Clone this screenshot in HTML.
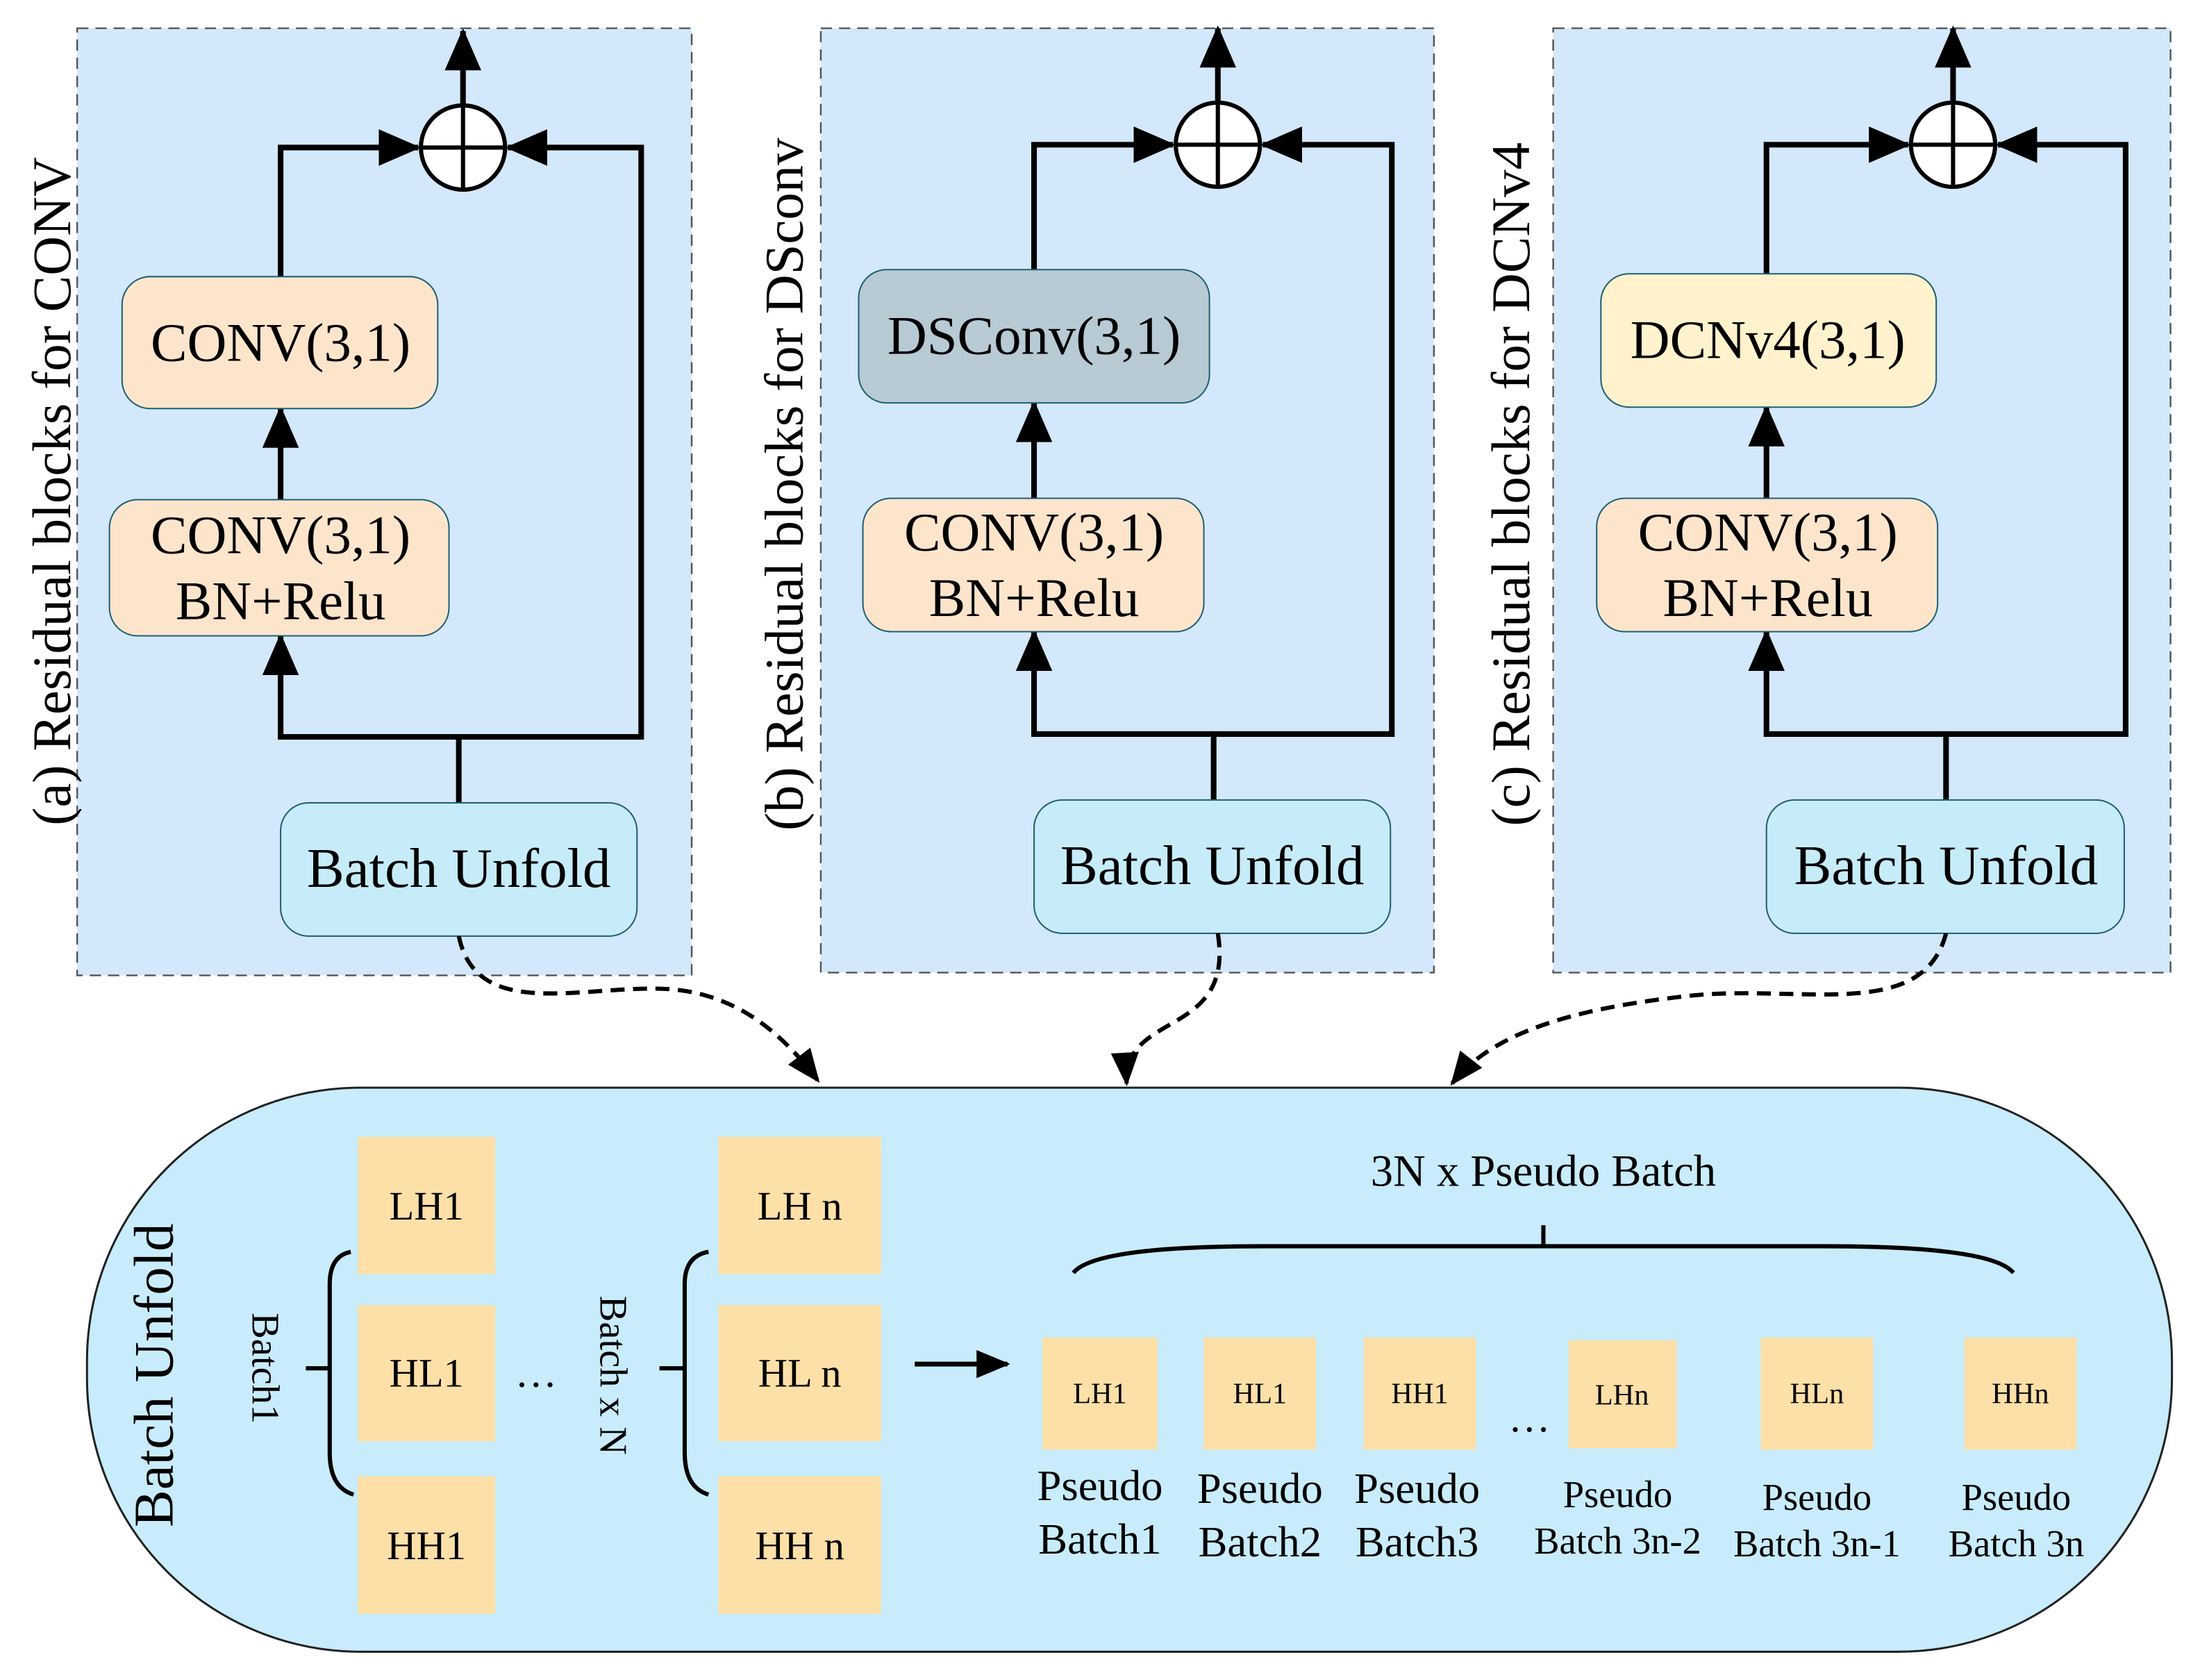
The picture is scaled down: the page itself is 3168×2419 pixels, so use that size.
<!DOCTYPE html>
<html><head><meta charset="utf-8"><style>
html,body{margin:0;padding:0;background:#fff;}
svg{display:block;}
text{font-family:"Liberation Serif",serif;fill:#000;}
</style></head><body>
<svg width="3168" height="2419" viewBox="0 0 1568 1197" xmlns="http://www.w3.org/2000/svg">
<defs>
<marker id="ab" markerWidth="30" markerHeight="30" refX="28" refY="15" orient="auto" markerUnits="userSpaceOnUse" viewBox="0 0 30 30"><path d="M0,2 L30,15 L0,28 z" fill="#000"/></marker>
<marker id="ad" markerWidth="24" markerHeight="24" refX="22" refY="12" orient="auto" markerUnits="userSpaceOnUse" viewBox="0 0 24 24"><path d="M0,2 L24,12 L0,22 z" fill="#000"/></marker>
</defs>
<rect width="1568" height="1197" fill="#fff"/>

<!-- Panel A -->
<g>
<rect x="55" y="20" width="438" height="675" fill="#d3e8fa" stroke="#555" stroke-width="1.2" stroke-dasharray="8,5"/>
<text transform="translate(50,350) rotate(-90)" font-size="39" text-anchor="middle">(a) Residual blocks for CONV</text>
<line x1="330" y1="75" x2="330" y2="22" stroke="#000" stroke-width="4" marker-end="url(#ab)"/>
<polyline points="200,197 200,105 298,105" fill="none" stroke="#000" stroke-width="4" marker-end="url(#ab)"/>
<polyline points="327,572 327,525 457,525 457,105 362,105" fill="none" stroke="#000" stroke-width="4" marker-end="url(#ab)"/>
<polyline points="327,525 200,525 200,453" fill="none" stroke="#000" stroke-width="4" marker-end="url(#ab)"/>
<line x1="200" y1="356" x2="200" y2="291" stroke="#000" stroke-width="4" marker-end="url(#ab)"/>
<circle cx="330" cy="105" r="30" fill="#fff" stroke="#000" stroke-width="3"/>
<line x1="300" y1="105" x2="360" y2="105" stroke="#000" stroke-width="3"/><line x1="330" y1="75" x2="330" y2="135" stroke="#000" stroke-width="3"/>
<rect x="87" y="197" width="225" height="94" rx="20" fill="#fde5cc" stroke="#1d5f74" stroke-width="1"/>
<text x="200" y="257" font-size="39" text-anchor="middle">CONV(3,1)</text>
<rect x="78" y="356" width="242" height="97" rx="20" fill="#fde5cc" stroke="#1d5f74" stroke-width="1"/>
<text x="200" y="394" font-size="39" text-anchor="middle">CONV(3,1)</text>
<text x="200" y="441" font-size="39" text-anchor="middle">BN+Relu</text>
<rect x="200" y="572" width="254" height="95" rx="20" fill="#c6ecfa" stroke="#1d5f74" stroke-width="1"/>
<text x="327" y="632" font-size="40" text-anchor="middle">Batch Unfold</text>
</g>

<!-- Panel B -->
<g>
<rect x="585" y="20" width="437" height="673" fill="#d3e8fa" stroke="#555" stroke-width="1.2" stroke-dasharray="8,5"/>
<text transform="translate(572,345) rotate(-90)" font-size="39" text-anchor="middle">(b) Residual blocks for DSconv</text>
<line x1="868" y1="73" x2="868" y2="20" stroke="#000" stroke-width="4" marker-end="url(#ab)"/>
<polyline points="737,192 737,103 836,103" fill="none" stroke="#000" stroke-width="4" marker-end="url(#ab)"/>
<polyline points="865,570 865,523 992,523 992,103 900,103" fill="none" stroke="#000" stroke-width="4" marker-end="url(#ab)"/>
<polyline points="865,523 737,523 737,450" fill="none" stroke="#000" stroke-width="4" marker-end="url(#ab)"/>
<line x1="737" y1="355" x2="737" y2="287" stroke="#000" stroke-width="4" marker-end="url(#ab)"/>
<circle cx="868" cy="103" r="30" fill="#fff" stroke="#000" stroke-width="3"/>
<line x1="838" y1="103" x2="898" y2="103" stroke="#000" stroke-width="3"/><line x1="868" y1="73" x2="868" y2="133" stroke="#000" stroke-width="3"/>
<rect x="612" y="192" width="250" height="95" rx="20" fill="#b8cad4" stroke="#1d5f74" stroke-width="1"/>
<text x="737" y="252" font-size="39" text-anchor="middle">DSConv(3,1)</text>
<rect x="615" y="355" width="243" height="95" rx="20" fill="#fde5cc" stroke="#1d5f74" stroke-width="1"/>
<text x="737" y="392" font-size="39" text-anchor="middle">CONV(3,1)</text>
<text x="737" y="439" font-size="39" text-anchor="middle">BN+Relu</text>
<rect x="737" y="570" width="254" height="95" rx="20" fill="#c6ecfa" stroke="#1d5f74" stroke-width="1"/>
<text x="864" y="630" font-size="40" text-anchor="middle">Batch Unfold</text>
</g>

<!-- Panel C -->
<g>
<rect x="1107" y="20" width="440" height="673" fill="#d3e8fa" stroke="#555" stroke-width="1.2" stroke-dasharray="8,5"/>
<text transform="translate(1090,345) rotate(-90)" font-size="39" text-anchor="middle">(c) Residual blocks for DCNv4</text>
<line x1="1392" y1="73" x2="1392" y2="20" stroke="#000" stroke-width="4" marker-end="url(#ab)"/>
<polyline points="1259,195 1259,103 1360,103" fill="none" stroke="#000" stroke-width="4" marker-end="url(#ab)"/>
<polyline points="1387,570 1387,523 1515,523 1515,103 1424,103" fill="none" stroke="#000" stroke-width="4" marker-end="url(#ab)"/>
<polyline points="1387,523 1259,523 1259,450" fill="none" stroke="#000" stroke-width="4" marker-end="url(#ab)"/>
<line x1="1259" y1="355" x2="1259" y2="290" stroke="#000" stroke-width="4" marker-end="url(#ab)"/>
<circle cx="1392" cy="103" r="30" fill="#fff" stroke="#000" stroke-width="3"/>
<line x1="1362" y1="103" x2="1422" y2="103" stroke="#000" stroke-width="3"/><line x1="1392" y1="73" x2="1392" y2="133" stroke="#000" stroke-width="3"/>
<rect x="1141" y="195" width="239" height="95" rx="20" fill="#fff2cc" stroke="#1d5f74" stroke-width="1"/>
<text x="1260" y="255" font-size="39" text-anchor="middle">DCNv4(3,1)</text>
<rect x="1138" y="355" width="243" height="95" rx="20" fill="#fde5cc" stroke="#1d5f74" stroke-width="1"/>
<text x="1260" y="392" font-size="39" text-anchor="middle">CONV(3,1)</text>
<text x="1260" y="439" font-size="39" text-anchor="middle">BN+Relu</text>
<rect x="1259" y="570" width="255" height="95" rx="20" fill="#c6ecfa" stroke="#1d5f74" stroke-width="1"/>
<text x="1387" y="630" font-size="40" text-anchor="middle">Batch Unfold</text>
</g>

<!-- Dashed curves -->
<path d="M327,667 C340,730 420,700 480,705 C530,710 560,740 583,770" fill="none" stroke="#000" stroke-width="3" stroke-dasharray="10,6" marker-end="url(#ad)"/>
<path d="M868,665 C880,740 800,720 803,772" fill="none" stroke="#000" stroke-width="3" stroke-dasharray="10,6" marker-end="url(#ad)"/>
<path d="M1387,665 C1370,730 1280,700 1200,710 C1110,720 1060,740 1035,772" fill="none" stroke="#000" stroke-width="3" stroke-dasharray="10,6" marker-end="url(#ad)"/>

<!-- Bottom -->
<rect x="62" y="775" width="1486" height="402" rx="195" fill="#c8ecfb" stroke="#222" stroke-width="1.5"/>
<text transform="translate(123,980) rotate(-90)" font-size="40" text-anchor="middle">Batch Unfold</text>

<g fill="#fde0a8">
<rect x="255" y="810" width="98" height="98"/><rect x="255" y="930" width="98" height="97"/><rect x="255" y="1052" width="98" height="98"/>
<rect x="512" y="810" width="116" height="98"/><rect x="512" y="930" width="116" height="97"/><rect x="512" y="1052" width="116" height="98"/>
<rect x="743" y="953" width="82" height="80"/><rect x="858" y="953" width="80" height="80"/><rect x="972" y="953" width="80" height="80"/>
<rect x="1118" y="955" width="77" height="77"/><rect x="1255" y="953" width="80" height="80"/><rect x="1400" y="953" width="80" height="80"/>
</g>
<g font-size="29" text-anchor="middle">
<text x="304" y="869">LH1</text><text x="304" y="988">HL1</text><text x="304" y="1111">HH1</text>
<text x="570" y="869">LH n</text><text x="570" y="988">HL n</text><text x="570" y="1111">HH n</text>
</g>
<g font-size="21" text-anchor="middle">
<text x="784" y="1000">LH1</text><text x="898" y="1000">HL1</text><text x="1012" y="1000">HH1</text>
<text x="1156" y="1001">LHn</text><text x="1295" y="1000">HLn</text><text x="1440" y="1000">HHn</text>
</g>
<text x="382" y="988" font-size="30" text-anchor="middle">…</text>
<text x="1090" y="1020" font-size="30" text-anchor="middle">…</text>

<path d="M250,892 Q235,895 235,915 L235,1035 Q235,1060 252,1065 M235,975 L218,975" fill="none" stroke="#000" stroke-width="3"/>
<path d="M505,892 Q488,895 488,915 L488,1035 Q488,1060 505,1065 M488,975 L470,975" fill="none" stroke="#000" stroke-width="3"/>
<text transform="translate(180,975) rotate(90)" font-size="28" text-anchor="middle">Batch1</text>
<text transform="translate(428,980) rotate(90)" font-size="28" text-anchor="middle">Batch x N</text>

<line x1="652" y1="972" x2="718" y2="972" stroke="#000" stroke-width="3.5" marker-end="url(#ad)"/>

<path d="M765,907 Q780,888 900,888 L1300,888 Q1420,888 1435,907 M1100,888 L1100,873" fill="none" stroke="#000" stroke-width="3"/>
<text x="1100" y="845" font-size="32" text-anchor="middle">3N x Pseudo Batch</text>

<g font-size="31" text-anchor="middle">
<text x="784" y="1069">Pseudo</text><text x="784" y="1107">Batch1</text>
<text x="898" y="1071">Pseudo</text><text x="898" y="1109">Batch2</text>
<text x="1010" y="1071">Pseudo</text><text x="1010" y="1109">Batch3</text>
</g>
<g font-size="27" text-anchor="middle">
<text x="1153" y="1074">Pseudo</text><text x="1153" y="1107">Batch 3n-2</text>
<text x="1295" y="1076">Pseudo</text><text x="1295" y="1109">Batch 3n-1</text>
<text x="1437" y="1076">Pseudo</text><text x="1437" y="1109">Batch 3n</text>
</g>
</svg>
</body></html>
